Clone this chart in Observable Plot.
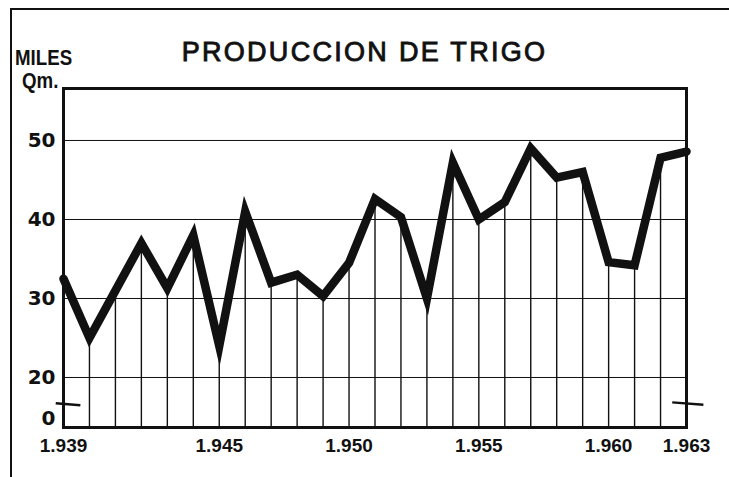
<!DOCTYPE html>
<html>
<head>
<meta charset="utf-8">
<script src="https://cdn.jsdelivr.net/npm/d3@7"></script>
<script src="https://cdn.jsdelivr.net/npm/@observablehq/plot@0.6"></script>
<style>
  html, body { margin: 0; padding: 0; background: #fff; }
  #wrap { position: relative; width: 729px; height: 477px; overflow: hidden; font-family: "Liberation Sans", Arial, sans-serif; }
  #border { position: absolute; left: 10px; top: 8px; width: 730px; height: 480px; border-top: 2px solid #111; border-left: 2px solid #111; box-sizing: border-box; }
  #title { position: absolute; left: 0; width: 729px; top: 39px; line-height: 1; text-align: center; font-size: 27px; letter-spacing: 2.3px; color: #111; -webkit-text-stroke: 0.9px #111; }
  .unit { position: absolute; line-height: 1; font-weight: bold; font-size: 22px; color: #111; transform: scaleX(0.85); transform-origin: left top; }
  #chart { position: absolute; left: 0; top: 0; }
</style>
</head>
<body>
<div id="wrap">
  <div id="chart"></div>
  <div id="border"></div>
  <div id="title">PRODUCCION DE TRIGO</div>
  <div class="unit" style="left:15px; top:47px;">MILES</div>
  <div class="unit" style="left:22px; top:70px;">Qm.</div>
</div>
<script>
// Data (thousands of Qm.)
const years = [1939, 1940, 1941, 1942, 1943, 1944, 1945, 1946, 1947, 1948, 1949, 1950, 1951, 1952, 1953, 1954, 1955, 1956, 1957, 1958, 1959, 1960, 1961, 1962, 1963];
const production = [32.5, 25, 31, 37, 31.3, 38, 24, 41, 32, 33, 30.3, 34.5, 42.6, 40.3, 30, 47.2, 40, 42.2, 49, 45.3, 46, 34.6, 34.2, 47.8, 48.6];
const xTickYears = [1939, 1945, 1950, 1955, 1960, 1963];
const yTickValues = [14.8, 20, 30, 40, 50];
const yTickLabels = ["0", "20", "30", "40", "50"];
const gridValues = [20, 30, 40, 50];
const yBreakBottom = 13.67;   // axis is broken: bottom edge stands for 0
const yTop = 56.58;
const breakMarks = [
  {x1: 1938.7, y1: 16.75, x2: 1939.65, y2: 16.5},
  {x1: 1962.45, y1: 16.85, x2: 1963.65, y2: 16.55}
];

const data = years.map((y, i) => ({year: y, value: production[i]}));

const chart = Plot.plot({
  width: 729,
  height: 477,
  marginLeft: 63,
  marginRight: 43,
  marginTop: 88,
  marginBottom: 50,
  style: {fontFamily: "'Liberation Sans', Arial, sans-serif", color: "#111", background: "transparent"},
  x: {domain: [1939, 1963]},
  y: {domain: [yBreakBottom, yTop]},
  marks: [
    Plot.ruleY(gridValues, {stroke: "#111", strokeWidth: 1}),
    Plot.ruleX(data, {x: "year", y1: yBreakBottom, y2: "value", stroke: "#111", strokeWidth: 1.4}),
    Plot.line(data, {x: "year", y: "value", stroke: "#111", strokeWidth: 8.5, strokeLinejoin: "miter", strokeMiterlimit: 6}),
    Plot.frame({stroke: "#111", strokeWidth: 3}),
    Plot.link(breakMarks, {x1: "x1", y1: "y1", x2: "x2", y2: "y2", stroke: "#111", strokeWidth: 2.5, clip: false}),
    Plot.axisY({ticks: yTickValues, tickFormat: d => yTickLabels[yTickValues.indexOf(d)], tickSize: 0, tickPadding: 8, fontSize: 20, fontWeight: "bold", fontFamily: "'DejaVu Sans', sans-serif", label: null}),
    Plot.axisX({ticks: xTickYears, tickFormat: d => "1." + String(d).slice(1), tickSize: 0, tickPadding: 11, fontSize: 19, fontWeight: "bold", label: null})
  ]
});
document.getElementById("chart").appendChild(chart);
</script>
</body>
</html>
